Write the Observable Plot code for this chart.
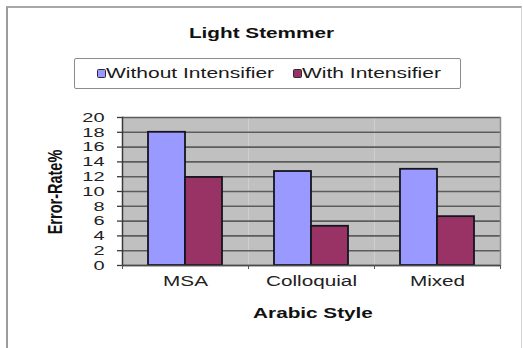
<!DOCTYPE html>
<html>
<head>
<meta charset="utf-8">
<script src="https://cdn.jsdelivr.net/npm/d3@7"></script>
<script src="https://cdn.jsdelivr.net/npm/@observablehq/plot@0.6"></script>
<style>
  body { margin: 0; background: #fff; }
  #chart {
    position: relative; width: 523px; height: 348px; overflow: hidden;
    font-family: "Liberation Sans", Arial, sans-serif; color: #111;
  }
  #chart svg { position: absolute; left: 0; top: 0; }
  .box {
    position: absolute; left: 6px; top: 6px; width: 516px; height: 345px; box-sizing: border-box;
    border-left: 2px solid #9c9c9c; border-top: 2px solid #a8a8a8; border-right: 1px solid #d2d2d2;
  }
  .wide { position: absolute; white-space: nowrap; line-height: 16px; }
  .title { left: 0; width: 523px; top: 25px; text-align: center; font-weight: bold; font-size: 14px;
           transform: scaleX(1.48); transform-origin: 261.5px 50%; }
  .xtitle { left: 212.5px; width: 200px; top: 305px; text-align: center; font-weight: bold; font-size: 14px;
            transform: scaleX(1.48); transform-origin: 50% 50%; }
  .ytitle { left: -5px; width: 120px; top: 183.5px; text-align: center; font-weight: bold; font-size: 14.5px;
            transform: rotate(-90deg) scaleY(1.38); transform-origin: 50% 50%; }
  .legend { position: absolute; left: 74px; top: 58px; width: 387px; height: 31px; box-sizing: border-box;
            border: 1.5px solid #8c8c8c; border-radius: 2px; }
  .swatch { position: absolute; width: 7px; height: 7px; top: 69px; border: 1.5px solid #2a2a3a; border-radius: 1.5px; }
  .ltext { top: 65px; font-size: 14px; color: #1a1a1a; transform: scaleX(1.5); transform-origin: 0 50%; }
</style>
</head>
<body>
<div id="chart"></div>
<script>
// Error rate (%) of the light stemmer per Arabic style
const categories = ["MSA", "Colloquial", "Mixed"];
const seriesNames = ["Without Intensifier", "With Intensifier"];
const withoutIntensifier = [18.0, 12.7, 13.0];
const withIntensifier = [11.9, 5.3, 6.6];
const yTicks = [0, 2, 4, 6, 8, 10, 12, 14, 16, 18, 20];
const seriesColors = ["#9999ff", "#993366"];
const chartTitle = "Light Stemmer";
const xTitle = "Arabic Style";
const yTitle = "Error-Rate%";

const rows = categories.flatMap((style, i) => [
  {style, series: seriesNames[0], value: withoutIntensifier[i]},
  {style, series: seriesNames[1], value: withIntensifier[i]}
]);

const W = 523, H = 348;
// plot area 378px wide so each style's panel spans a whole number of pixels
const margin = {left: 122, right: 23, top: 117, bottom: 83};
const facetW = (W - margin.left - margin.right) / categories.length;
const stretch = 1.48;

const plot = Plot.plot({
  width: W, height: H,
  marginLeft: margin.left, marginRight: margin.right,
  marginTop: margin.top, marginBottom: margin.bottom,
  style: {fontFamily: "'Liberation Sans', Arial, sans-serif", fontSize: "13.5px", color: "#222", background: "transparent"},
  fx: {domain: categories, padding: 0, label: null},
  x: {domain: seriesNames, paddingInner: 0, paddingOuter: 0.7, axis: null},
  y: {domain: [0, 20]},
  color: {domain: seriesNames, range: seriesColors},
  marks: [
    Plot.frame({fill: "#c0c0c0", stroke: null}),
    Plot.gridY(yTicks, {stroke: "#5c5c5c", strokeOpacity: 1, strokeWidth: 1.6}),
    Plot.barY(rows, {fx: "style", x: "series", y: "value", fill: "series", stroke: "#15151f", strokeWidth: 1.8}),
    Plot.frame({anchor: "right", stroke: "#8c8c8c", strokeWidth: 1.5, facetAnchor: "right"}),
    Plot.ruleY([0], {stroke: "#4a4a4a", strokeWidth: 1.5}),
    Plot.frame({anchor: "left", stroke: "#3a3a3a", strokeWidth: 1.5, facetAnchor: "left"}),
    Plot.axisY(yTicks, {anchor: "left", tickSize: 5, tickPadding: 13, label: null, stroke: "#3a3a3a", strokeWidth: 1.3}),
    Plot.axisFx({anchor: "bottom", tickSize: 0, tickPadding: 11, label: null, fontSize: 14}),
    Plot.axisFx({anchor: "bottom", tickSize: 4, dx: -facetW / 2, tickFormat: () => "", label: null, stroke: "#555"}),
    Plot.axisFx({anchor: "bottom", ticks: [categories[categories.length - 1]], tickSize: 4, dx: facetW / 2, tickFormat: () => "", label: null, stroke: "#555"})
  ]
});

// widen the axis lettering horizontally about each label's anchor point
plot.querySelectorAll("text").forEach((t) => {
  const xa = t.getAttribute("x");
  const x = xa != null && isFinite(+xa) ? +xa : 0;
  if (xa != null && isFinite(+xa)) t.removeAttribute("x");
  const tr = t.getAttribute("transform") || "";
  t.setAttribute("transform", `${tr} translate(${x},0) scale(${stretch},1)`);
});

const chart = document.getElementById("chart");
const add = (cls, text, css) => {
  const d = document.createElement("div");
  d.className = cls;
  if (text) d.textContent = text;
  if (css) Object.assign(d.style, css);
  chart.appendChild(d);
  return d;
};

add("box");
chart.appendChild(plot);
add("wide title", chartTitle);
add("legend");
const legendX = [{swatch: 97, text: 106}, {swatch: 293, text: 302}];
seriesNames.forEach((name, i) => {
  add("swatch", null, {left: legendX[i].swatch + "px", background: seriesColors[i]});
  add("wide ltext", name, {left: legendX[i].text + "px"});
});
add("wide xtitle", xTitle);
add("wide ytitle", yTitle);
</script>
</body>
</html>
